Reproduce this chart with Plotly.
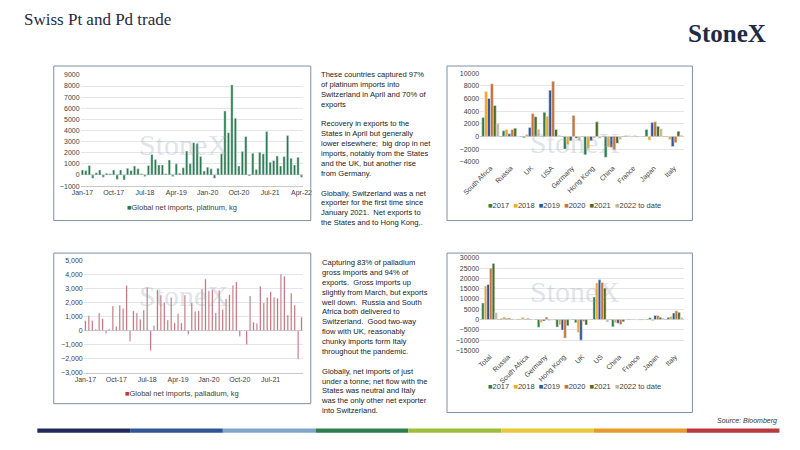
import plotly.graph_objects as go
import pandas as pd



# Monthly net imports, Jan-17 to Apr-22
months = pd.date_range('2017-01-01', '2022-04-01', freq='MS').strftime('%b-%y').tolist()
pt_net_imports = [450, 400, 850, -300, 200, 450, -200, 150, 100, 450, -400, 450,
                  -450, 600, 400, 800, 550, 100, -150, 850, 1850, 1400, 900, 900,
                  100, 1350, -150, 1000, 150, 650, 2150, 1000, 2900, 2800, 1650, 350,
                  700, 550, -300, 600, 1900, 5750, 3800, 8100, 5100, 800, 2100, 3450,
                  -100, 1950, 500, 2050, 1900, 3900, 1150, 1300, 1700, 800, 1650, 3550,
                  1500, 900, 1600, -200]
pd_net_imports = [700, 1050, 700, 100, 1250, 850, -200, 100, 1750, 300, 1800, 1550,
                  3200, -750, 1400, 1250, 800, 1450, 3050, -1400, 350, 2900, 2500, 2000,
                  750, 2350, 550, 1200, 550, 2500, -250, 1950, 1350, 1400, 2950, 3650,
                  2800, 2900, 1250, 2850, 1500, 2250, 2550, 3200, 3450, -400, 0, -1000,
                  2450, 600, 500, 3150, 1950, 2350, 2750, 2350, 2300, 4000, 3850, 1100,
                  2650, 1800, -2000, 950]
pt_ticks = ['Jan-17', 'Oct-17', 'Jul-18', 'Apr-19', 'Jan-20', 'Oct-20', 'Jul-21', 'Apr-22']
pd_ticks = ['Jan-17', 'Oct-17', 'Jul-18', 'Apr-19', 'Jan-20', 'Oct-20', 'Jul-21']

# Net flows by country and year
years = ['2017', '2018', '2019', '2020', '2021', '2022 to date']
year_colors = ['#2e7d4f', '#f5a623', '#2f5597', '#c8733a', '#4e6b1f', '#c4b79a']
pt_countries = ['South Africa', 'Russia', 'UK', 'USA', 'Germany', 'Hong Kong', 'China', 'France', 'Japan', 'Italy']
pt_by_year = [
    [3000, 900, -200, 3800, -2000, -2900, -3300, 100, 1100, -100],
    [7100, 1100, 300, 3200, -1300, -1900, -1700, 100, -600, -500],
    [6000, 400, 1400, 7300, -700, -700, -1700, -50, 2200, -1600],
    [8300, 1100, 3600, 8700, 3300, -200, -2100, 100, 2300, -1000],
    [4900, 1300, 3100, 1100, -300, 2300, -1100, -100, 1600, 800],
    [2000, 0, 1100, 200, -600, -300, -500, -100, 1200, 200],
]
pd_countries = ['Total', 'Russia', 'South Africa', 'Germany', 'Hong Kong', 'UK', 'US', 'China', 'France', 'Japan', 'Italy']
pd_by_year = [
    [8000, 500, 300, -3700, -3600, -1500, 11000, -3500, 200, 900, 1100],
    [16300, 1200, 1100, -1400, -2500, -6200, 17800, -1500, 300, -600, 1500],
    [17000, 500, 300, -700, -5100, -10000, 19300, -1800, 0, 2000, 3200],
    [25000, 700, 600, 1200, -9000, -1000, 18000, -2400, -200, 2000, 4300],
    [27300, 300, 300, -300, -3000, -2600, 15300, -1100, -200, 1100, 3500],
    [3300, 200, 100, -200, -100, -100, -1200, -200, -100, 800, 1000],
]

pt_text = ("These countries captured 97%<br>of platinum imports into<br>Switzerland in April and 70% of<br>exports<br><br>"
           "Recovery in exports to the<br>States in April but generally<br>lower elsewhere;  big drop in net<br>"
           "imports, notably from the States<br>and the UK, but another rise<br>from Germany.<br><br>"
           "Globally, Switzerland was a net<br>exporter for the first time since<br>January 2021.  Net exports to<br>"
           "the States and to Hong Kong,.")
pd_text = ("Capturing 83% of palladium<br>gross imports and 94% of<br>exports.  Gross imports up<br>"
           "slightly from March, but exports<br>well down.  Russia and South<br>Africa both delivered to<br>"
           "Switzerland.  Good two-way<br>flow with UK, reasonably<br>chunky imports form Italy<br>"
           "throughout the pandemic.<br><br>Globally, net imports of just<br>under a tonne; net flow with the<br>"
           "States was neutral and Italy<br>was the only other net exporter<br>into Switzerland.")

fig = go.Figure()

# Monthly bars
fig.add_trace(go.Bar(x=months, y=pt_net_imports, marker_color='#2a7a4b', width=0.65,
                     name='Global net imports, platinum, kg', xaxis='x', yaxis='y'))
fig.add_trace(go.Bar(x=months, y=pd_net_imports, marker_color='#b8393f', width=0.35,
                     name='Global net imports, palladium, kg', xaxis='x3', yaxis='y3'))

# Grouped country bars
for yr, col, pt_vals, pd_vals in zip(years, year_colors, pt_by_year, pd_by_year):
    fig.add_trace(go.Bar(x=pt_countries, y=pt_vals, name=yr, marker_color=col, xaxis='x2', yaxis='y2'))
    fig.add_trace(go.Bar(x=pd_countries, y=pd_vals, name=yr, marker_color=col, xaxis='x4', yaxis='y4'))

axis_font = dict(family='Arial', size=7, color='#404040')
grid = dict(showgrid=True, gridcolor='#e4e4ec', gridwidth=0.6, zeroline=True, zerolinecolor='#c8c8c8', zerolinewidth=0.8)

fig.update_layout(
    width=800, height=450,
    margin=dict(l=0, r=0, t=0, b=0),
    paper_bgcolor='white', plot_bgcolor='white',
    barmode='group', bargap=0.15, bargroupgap=0,
    showlegend=False,  # compact legends are drawn as text below
    font=dict(family='Arial', size=8, color='#222222'),
    xaxis=dict(domain=[0.081, 0.369], anchor='y', tickvals=pt_ticks, tickfont=axis_font,
               showline=True, linecolor='#c8c8c8', ticks=''),
    yaxis=dict(domain=[0.589, 0.84], anchor='x', range=[-1000, 9000], dtick=1000, tickformat='d',
               tickfont=axis_font, **grid),
    xaxis2=dict(domain=[0.598, 0.862], anchor='y2', tickangle=-45, tickfont=axis_font, ticks=''),
    yaxis2=dict(domain=[0.644, 0.844], anchor='x2', range=[-4000, 10000], dtick=2000, tickformat='d',
                tickfont=axis_font, **grid),
    xaxis3=dict(domain=[0.085, 0.369], anchor='y3', tickvals=pd_ticks, tickfont=axis_font,
                showline=True, linecolor='#c8c8c8', ticks=''),
    yaxis3=dict(domain=[0.167, 0.422], anchor='x3', range=[-3000, 5000], dtick=1000, tickformat=',d',
                tickfont=axis_font, **grid),
    xaxis4=dict(domain=[0.598, 0.862], anchor='y4', tickangle=-45, tickfont=axis_font, ticks=''),
    yaxis4=dict(domain=[0.218, 0.427], anchor='x4', range=[-15000, 30000], dtick=5000, tickformat='d',
                tickfont=axis_font, **grid),
)

# Legends
year_key = '  '.join(f'<span style="color:{c}">■</span>{y}' for y, c in zip(years, year_colors))
for lx, ly, txt in [(0.212, 0.54, '<span style="color:#2a7a4b">■</span>Global net imports, platinum, kg'),
                    (0.72, 0.545, year_key),
                    (0.212, 0.105, '<span style="color:#b8393f">■</span>Global net imports, palladium, kg'),
                    (0.72, 0.122, year_key)]:
    fig.add_annotation(x=lx, y=ly, xref='paper', yref='paper', xanchor='center', text=txt, showarrow=False,
                       font=dict(family='Arial', size=7.5, color='#404040'))

# Chart frames
for x0, y0, x1, y1 in [(37, 63, 303, 220), (444, 63, 698, 220), (37, 253, 303, 406), (444, 253, 698, 415)]:
    fig.add_shape(type='rect', xref='paper', yref='paper', x0=x0 / 800, x1=x1 / 800,
                  y0=1 - y1 / 450, y1=1 - y0 / 450, line=dict(color='#7f8fa6', width=1))

# Watermarks
for wx, wy in [(0.215, 0.725), (0.72, 0.73), (0.215, 0.30), (0.72, 0.31)]:
    fig.add_annotation(x=wx, y=wy, xref='paper', yref='paper', xanchor='center', text='StoneX', showarrow=False,
                       font=dict(family='Liberation Serif', size=30, color='rgba(150,160,175,0.3)'))

# Title, logo and commentary
fig.add_annotation(x=0.005, y=0.965, xref='paper', yref='paper', xanchor='left', yanchor='middle',
                   text='Swiss Pt and Pd trade', showarrow=False,
                   font=dict(family='Liberation Serif', size=17, color='#1f2a44'))
fig.add_annotation(x=0.97, y=0.933, xref='paper', yref='paper', xanchor='right', yanchor='middle',
                   text='<b>StoneX</b>', showarrow=False,
                   font=dict(family='Liberation Serif', size=25, color='#1f2a44'))
fig.add_annotation(x=0.39, y=0.855, xref='paper', yref='paper', xanchor='left', yanchor='top', align='left',
                   text=pt_text, showarrow=False, font=dict(family='Arial', size=7.6, color='#222222'))
fig.add_annotation(x=0.39, y=0.432, xref='paper', yref='paper', xanchor='left', yanchor='top', align='left',
                   text=pd_text, showarrow=False, font=dict(family='Arial', size=7.6, color='#222222'))
fig.add_annotation(x=0.985, y=0.058, xref='paper', yref='paper', xanchor='right', yanchor='middle',
                   text='<i>Source: Bloomberg</i>', showarrow=False,
                   font=dict(family='Arial', size=7, color='#333333'))

# Bottom colour strip
strip = ['#1f2a5a', '#2f5597', '#7fa6c9', '#2e7d4f', '#9cbf3b', '#e8c93a', '#e89a2a', '#b8393f']
for i, c in enumerate(strip):
    fig.add_shape(type='rect', xref='paper', yref='paper', x0=0.025 + i * 0.12, x1=0.025 + (i + 1) * 0.12,
                  y0=0.032, y1=0.042, line_width=0, fillcolor=c)

fig.write_html("out.html", config={'displayModeBar': False},
               post_script="document.body.style.margin='0'; document.body.style.overflow='hidden';")
